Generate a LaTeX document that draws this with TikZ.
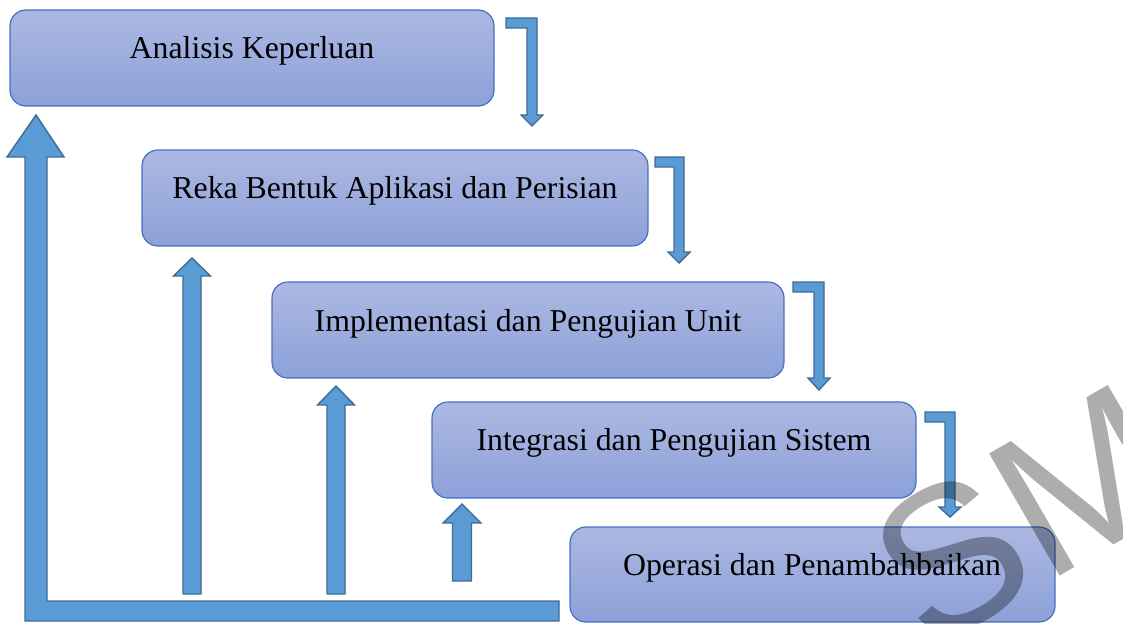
\documentclass[tikz,border=0pt]{standalone}
\usepackage{fontspec}
\setmainfont{Liberation Serif}
\setsansfont{Liberation Sans}
\begin{document}
\begin{tikzpicture}[x=1pt,y=-1pt,
  box/.style={draw={rgb,255:red,68;green,114;blue,196}, line width=1.2pt, rounded corners=16pt,
    top color={rgb,255:red,172;green,184;blue,226}, bottom color={rgb,255:red,140;green,161;blue,216},
    shading angle=0},
  lbl/.style={font=\fontsize{31.8}{36}\selectfont, text=black, inner sep=0pt},
  blockarrow/.style={draw={rgb,255:red,62;green,108;blue,150}, line width=1.4pt,
    fill={rgb,255:red,91;green,155;blue,213}, line join=miter},
  wm/.style={font=\fontsize{205}{205}\sffamily, text=black, text opacity=0.32, inner sep=0pt}
]
\useasboundingbox (0,0) rectangle (1123,623);
\fill[white] (0,0) rectangle (1123,623);

% process boxes
\path[box] (10,10) rectangle (494,106);
\coordinate (b1) at (252,58);
\path[box] (142,150) rectangle (648,246);
\coordinate (b2) at (395,198);
\path[box] (272,282) rectangle (784,378);
\coordinate (b3) at (528,330);
\path[box] (432,402) rectangle (916,498);
\coordinate (b4) at (674,450);
\path[box] (570,527) rectangle (1055,622);
\coordinate (b5) at (812,575);

\node[lbl] (t1) at ([yshift=7pt]b1) {Analisis Keperluan};
\node[lbl] (t2) at ([yshift=7pt]b2) {Reka Bentuk Aplikasi dan Perisian};
\node[lbl] (t3) at ([yshift=6pt]b3) {Implementasi dan Pengujian Unit};
\node[lbl] (t4) at ([yshift=7pt]b4) {Integrasi dan Pengujian Sistem};
\node[lbl] (t5) at ([yshift=7pt]b5) {Operasi dan Penambahbaikan};

% elbow arrows: L, T, R, head base, tip
\newcommand{\elbowarrow}[5]{%
  \path[blockarrow] (#1,#2) -- (#3,#2) -- (#3,#4) -- ({#3-5+11},#4) -- ({#3-5},#5)
    -- ({#3-5-11},#4) -- ({#3-10},#4) -- ({#3-10},{#2+10}) -- (#1,{#2+10}) -- cycle;}
\elbowarrow{506}{18}{537}{115}{126}
\elbowarrow{655}{157}{684}{252}{263}
\elbowarrow{793}{282}{824}{378}{390}
\elbowarrow{925}{412}{955}{507}{517}

% up arrows: cx, shaft half width, bottom, head base, tip, head half width
\newcommand{\uparr}[6]{%
  \path[blockarrow] ({#1-#2},#3) -- ({#1+#2},#3) -- ({#1+#2},#4) -- ({#1+#6},#4) -- (#1,#5)
    -- ({#1-#6},#4) -- ({#1-#2},#4) -- cycle;}
\uparr{192}{9}{594}{276}{258}{18.5}
\uparr{336}{9}{594}{405}{386}{18.5}
\uparr{462}{9.5}{581}{523}{504}{19}

% large return arrow
\path[blockarrow] (559,601) -- (47,601) -- (47,157) -- (64,157) -- (36,115) -- (7,157)
  -- (25,157) -- (25,621) -- (559,621) -- cycle;

% watermark
\begin{scope}
\clip (0,0) rectangle (1123,623);
\node[wm, rotate=30] (wmark) at (1025,515) {SM};
\end{scope}
\end{tikzpicture}
\end{document}
